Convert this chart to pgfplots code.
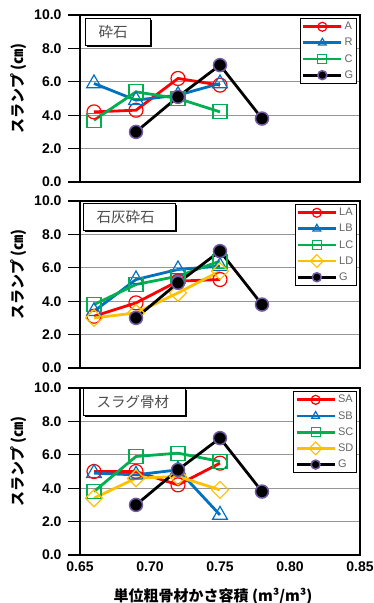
\documentclass[border=0pt]{standalone}
\usepackage{fontspec}
\setmainfont{Liberation Sans}
\newfontfamily\jp{Noto Sans CJK JP}
\usepackage{pgfplots}
\pgfplotsset{compat=1.18}
\usetikzlibrary{shadows}
\definecolor{cred}{RGB}{255,0,0}
\definecolor{cblue}{RGB}{0,112,192}
\definecolor{cgreen}{RGB}{0,176,80}
\definecolor{cyellow}{RGB}{255,192,0}
\definecolor{cpurp}{RGB}{115,90,165}
\definecolor{cgrid}{RGB}{150,150,150}
\tikzset{
  titlebox/.style={draw=black, line width=1pt, fill=white, font=\jp\fontsize{14.5}{14.5}\selectfont, text=black!70,
    anchor=north west, align=left, inner xsep=13pt, minimum height=27pt,
    drop shadow={shadow xshift=1.5pt, shadow yshift=-1.5pt, opacity=1, fill=black}},
}
\pgfplotsset{
  panel/.style={
    scale only axis, width=280pt, height=167pt,
    xmin=0.65, xmax=0.85, ymin=0, ymax=10,
    xtick={0.65,0.70,0.75,0.80,0.85}, ytick={0,2,4,6,8,10},
    yticklabels={0.0,2.0,4.0,6.0,8.0,10.0},
    ymajorgrids, major grid style={cgrid, line width=1.2pt},
    axis line style={black, line width=1.5pt},
    tick align=outside, ytick pos=left, xtick pos=bottom,
    major tick length=12pt,
    ytick style={black, line width=1.2pt},
    xtick style={draw=none},
    /pgf/number format/assume math mode=true,
    tick label style={font=\fontsize{14}{14}\selectfont\bfseries},
    y tick label style={xshift=-3pt},
    x tick label style={yshift=9pt},
    ylabel={\jp\bfseries\fontsize{15}{15}\selectfont スランプ (㎝)},
    ylabel style={at={(rel axis cs:-0.221,0.56)}, anchor=center},
    clip=false,
    legend style={at={(0.99,0.98)}, anchor=north east, draw=black, line width=0.8pt, fill=white,
      font=\fontsize{11}{11}\selectfont, text=black!60, inner sep=1.5pt, row sep=3pt},
    legend cell align=left,
    legend image code/.code={\draw[mark repeat=2, mark phase=2] plot coordinates {(0pt,0pt) (19pt,0pt) (38pt,0pt)};},
    legend image post style={mark size=4.5pt},
  },
  sr/.style={cred, line width=2.8pt, mark=o, mark size=7pt, mark options={fill=white, line width=1.2pt}},
  sb/.style={cblue, line width=2.8pt, mark=triangle, mark size=8.5pt, mark options={fill=white, line width=1.2pt}},
  sg/.style={cgreen, line width=2.8pt, mark=square, mark size=7pt, mark options={fill=white, line width=1.2pt}},
  sy/.style={cyellow, line width=2.8pt, mark=square, mark size=6pt, mark options={fill=white, line width=1.2pt, rotate=45}},
  sk/.style={black, line width=2.8pt, mark=*, mark size=6.5pt, mark options={fill=black, draw=cpurp, line width=1.5pt}},
}
\begin{document}
\begin{tikzpicture}
\path[use as bounding box] (0pt,0pt) rectangle (374pt,-603pt);
% Panel 1
\begin{axis}[panel, at={(80pt,-182pt)}, anchor=south west, xticklabels={}]
\addplot[sr] coordinates {(0.66,4.2) (0.69,4.3) (0.72,6.2) (0.75,5.8)};
\addlegendentry{A}
\addplot[sb] coordinates {(0.66,5.9) (0.69,4.9) (0.72,5.2) (0.75,5.9)};
\addlegendentry{R}
\addplot[sg] coordinates {(0.66,3.7) (0.69,5.4) (0.72,5.0) (0.75,4.2)};
\addlegendentry{C}
\addplot[sk] coordinates {(0.69,3.0) (0.72,5.1) (0.75,7.0) (0.78,3.8)};
\addlegendentry{G}
\node[titlebox, text width=39pt] at (rel axis cs:0.018,0.982) {砕石};
\end{axis}
% Panel 2
\begin{axis}[panel, at={(80pt,-368pt)}, anchor=south west, xticklabels={}]
\addplot[sr] coordinates {(0.66,3.1) (0.69,3.9) (0.72,5.2) (0.75,5.3)};
\addlegendentry{LA}
\addplot[sb] coordinates {(0.66,3.4) (0.69,5.3) (0.72,5.9) (0.75,6.1)};
\addlegendentry{LB}
\addplot[sg] coordinates {(0.66,3.8) (0.69,5.0) (0.72,5.5) (0.75,6.4)};
\addlegendentry{LC}
\addplot[sy] coordinates {(0.66,3.0) (0.69,3.3) (0.72,4.5) (0.75,5.8)};
\addlegendentry{LD}
\addplot[sk] coordinates {(0.69,3.0) (0.72,5.1) (0.75,7.0) (0.78,3.8)};
\addlegendentry{G}
\node[titlebox, text width=66pt] at (rel axis cs:0.011,0.99) {石灰砕石};
\end{axis}
% Panel 3
\begin{axis}[panel, at={(80pt,-555pt)}, anchor=south west,
  xticklabels={0.65,0.70,0.75,0.80,0.85},
  xlabel={\jp\bfseries\fontsize{15}{15}\selectfont 単位粗骨材かさ容積 (m³/m³)},
  xlabel style={at={(rel axis cs:0.475,-0.245)}, anchor=center}]
\addplot[sr] coordinates {(0.66,5.0) (0.69,5.0) (0.72,4.2) (0.75,5.5)};
\addlegendentry{SA}
\addplot[sb] coordinates {(0.66,4.9) (0.69,4.8) (0.72,5.1) (0.75,2.4)};
\addlegendentry{SB}
\addplot[sg] coordinates {(0.66,3.8) (0.69,5.9) (0.72,6.1) (0.75,5.6)};
\addlegendentry{SC}
\addplot[sy] coordinates {(0.66,3.4) (0.69,4.6) (0.72,4.7) (0.75,3.9)};
\addlegendentry{SD}
\addplot[sk] coordinates {(0.69,3.0) (0.72,5.1) (0.75,7.0) (0.78,3.8)};
\addlegendentry{G}
\node[titlebox, text width=76pt] at (rel axis cs:0.011,1.0) {スラグ骨材};
\end{axis}
\end{tikzpicture}
\end{document}
